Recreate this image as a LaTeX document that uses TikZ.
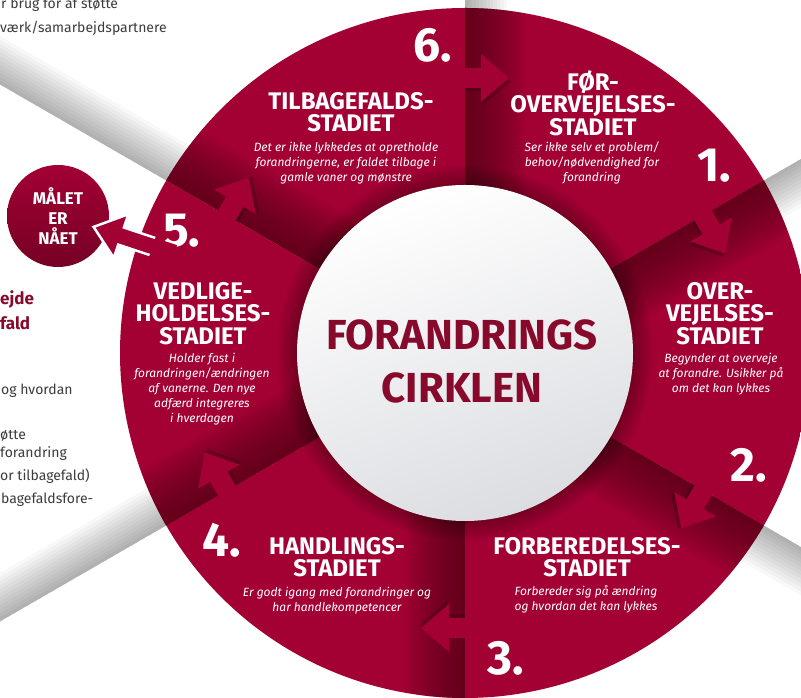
\documentclass[tikz,border=0pt]{standalone}
\usepackage{fontspec}
\setmainfont{Fira Sans}
\usetikzlibrary{calc}
\definecolor{crim}{RGB}{163,0,52}
\definecolor{crimdark}{RGB}{80,2,22}
\definecolor{crimtext}{RGB}{135,10,45}
\definecolor{txtgrey}{RGB}{60,60,62}
\definecolor{circgrey}{RGB}{220,221,225}

% sector between angles #1 (clockwise edge) and #2 (incoming edge)
\newcommand\mysector[2]{%
  \begin{scope}
    \clip (465,345) -- ++(#1:345) arc[start angle=#1, end angle=#2, radius=345pt] -- cycle;
    \fill[crim] (0,0) rectangle (801,698);
    \begin{scope}[shift={(465,345)}, rotate=#2]
      \foreach \k in {1,...,20} {\fill[crimdark, opacity=0.055] (0,0) rectangle (400,-\k*3);}
    \end{scope}
  \end{scope}}
% grey fold band outside the circle
\newcommand\myband[1]{%
  \begin{scope}[shift={(465,345)}, rotate=#1]
    \foreach \k in {1,...,12} {\fill[black, opacity=0.026] (330,0) rectangle (900,-\k*3.5);}
  \end{scope}}
% block arrow crossing boundary #1, pointing clockwise
\newcommand\myarrow[1]{%
  \begin{scope}[shift={(465,345)}, rotate=#1, shift={(275,0)}, rotate=-90]
    \fill[black, opacity=0.2] (0,-13) -- (18,-13) -- (18,-27) -- (46,-3) -- (18,21) -- (18,7) -- (0,7) -- cycle;
    \fill[crim] (-3,-10) -- (16,-10) -- (16,-24) -- (44,0) -- (16,24) -- (16,10) -- (-3,10) -- cycle;
  \end{scope}}

\tikzset{
  tit/.style={font=\fontsize{24}{22.5}\selectfont\bfseries, text=white, align=center, anchor=north, inner sep=0pt},
  desc/.style={font=\fontsize{12}{15}\selectfont\itshape, text=white, align=center, anchor=north, inner sep=0pt},
  num/.style={font=\fontsize{48}{48}\selectfont\bfseries, text=white, anchor=base west, inner sep=0pt},
  ctr/.style={font=\fontsize{42}{42}\selectfont\bfseries, text=crimtext, anchor=base, inner sep=0pt},
  frag/.style={font=\fontsize{14}{18}\selectfont, text=txtgrey, anchor=base west, inner sep=0pt},
  fragb/.style={font=\fontsize{17}{20}\selectfont\bfseries, text=crimtext, anchor=base west, inner sep=0pt}
}

\begin{document}
\begin{tikzpicture}[x=1pt, y=1pt]
\useasboundingbox (0,0) rectangle (801,698);
\clip (0,0) rectangle (801,698);
\fill[white] (0,0) rectangle (801,698);

% fold bands
\myband{150}
\myband{90}
\myband{30}
\myband{-30}
\myband{210}

% sectors
\mysector{90}{150}
\mysector{30}{90}
\mysector{-30}{30}
\mysector{-90}{-30}
\mysector{210}{270}
\mysector{150}{210}

% arrows between stages
\myarrow{90}
\myarrow{30}
\myarrow{-30}
\myarrow{-90}
\myarrow{210}
\myarrow{150}

% inner circle with shadow
\foreach \k in {0,...,9} {\fill[black, opacity=0.03] (465,345) circle[radius=168pt+\k*2.2pt];}
\shade[top color=white, bottom color=circgrey, shading angle=20] (465,345) circle[radius=168pt];

\node[ctr] (c1) at (462,348) {FORANDRINGS};
\node[ctr] (c2) at (462,295) {CIRKLEN};

% stage texts
\node[tit] (s6t) at (351,606) {TILBAGEFALDS-\\STADIET};
\node[desc] (s6d) at (346,556) {Det er ikke lykkedes at opretholde\\forandringerne, er faldet tilbage i\\gamle vaner og mønstre};
\node[tit] (s1t) at (593,628) {FØR-\\OVERVEJELSES-\\STADIET};
\node[desc] (s1d) at (592,556) {Ser ikke selv et problem/\\behov/nødvendighed for\\forandring};
\node[tit] (s2t) at (720,416) {OVER-\\VEJELSES-\\STADIET};
\node[desc] (s2d) at (721,345) {Begynder at overveje\\at forandre. Usikker på\\om det kan lykkes};
\node[tit] (s3t) at (587,161) {FORBEREDELSES-\\STADIET};
\node[desc] (s3d) at (586,113) {Forbereder sig på ændring\\og hvordan det kan lykkes};
\node[tit] (s4t) at (337,161) {HANDLINGS-\\STADIET};
\node[desc] (s4d) at (337,111) {Er godt igang med forandringer og\\har handlekompetencer};
\node[tit] (s5t) at (203,416) {VEDLIGE-\\HOLDELSES-\\STADIET};
\node[desc] (s5d) at (202,345) {Holder fast i\\forandringen/ændringen\\af vanerne. Den nye\\adfærd integreres\\i hverdagen};

% numbers
\node[num] (n6) at (413,636) {6.};
\node[num] (n1) at (697,516) {1.};
\node[num] (n2) at (730,216) {2.};
\node[num] (n3) at (487,23) {3.};
\node[num] (n4) at (202,141) {4.};
\node[num] (n5) at (163,451) {5.};

% goal circle and arrow
\node[circle, minimum size=102pt, inner sep=0pt, top color=crim, bottom color=crimdark!55!crim,
      font=\fontsize{17}{20}\selectfont\bfseries, text=white, align=center] (goal) at (58,482) {MÅLET\\ER\\NÅET};
\begin{scope}[shift={(160,449)}, rotate=161.6]
  \fill[crim] (-15,-9) -- (41,-9) -- (41,-23) -- (70,0) -- (41,23) -- (41,9) -- (-15,9) -- cycle;
  \draw[white, line width=2.5pt, line join=miter] (8,-9) -- (41,-9) -- (41,-23) -- (70,0) -- (41,23) -- (41,9) -- (8,9);
\end{scope}

% cropped page text at left
\node[frag] (f1) at (1,689) {r brug for af støtte};
\node[frag] (f2) at (0,665) {værk/samarbejdspartnere};
\node[fragb] (f3) at (0,393) {ejde};
\node[fragb] (f4) at (0,368) {fald};
\node[frag] (f5) at (1,303) {og hvordan};
\node[frag] (f6) at (0,258) {øtte};
\node[frag] (f7) at (0,240) {forandring};
\node[frag] (f8) at (0,217) {or tilbagefald)};
\node[frag] (f9) at (1,194) {bagefaldsfore-};
\end{tikzpicture}
\end{document}
